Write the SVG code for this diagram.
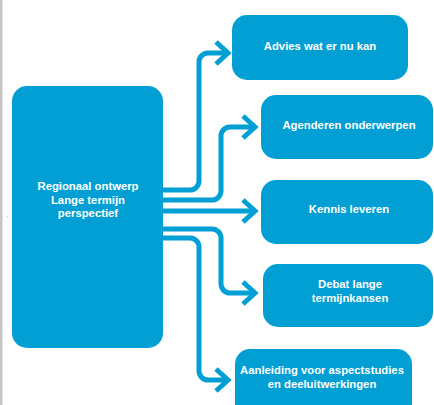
<svg xmlns="http://www.w3.org/2000/svg" width="434" height="405" viewBox="0 0 434 405">
  <defs>
    <style>
      .box { fill: #029fd4; }
      .lbl { fill: #ffffff; font-family: "Liberation Sans", Arial, sans-serif; font-weight: bold; font-size: 11.3px; text-anchor: middle; }
      .wire { fill: none; stroke: #029fd4; stroke-width: 5; }
      .head { fill: none; stroke: #029fd4; stroke-width: 5; stroke-linejoin: miter; }
    </style>
  </defs>

  <rect x="0" y="0" width="434" height="405" fill="#ffffff"/>
  <!-- page edge -->
  <rect x="0" y="0" width="2.5" height="405" fill="#c4c4c4"/>
  <rect x="7" y="216" width="1" height="1" fill="#c8c8c8"/>

  <g id="connectors">
    <path class="wire" d="M163,190 H190 A9 9 0 0 0 199,181 V62 A9 9 0 0 1 208,53 H226"/>
    <polyline class="head" points="216,42 228,53 216,64"/>

    <path class="wire" d="M163,200 H212 A9 9 0 0 0 221,191 V136 A9 9 0 0 1 230,127 H253"/>
    <polyline class="head" points="243,116 255,127 243,138"/>

    <path class="wire" d="M163,211 H253"/>
    <polyline class="head" points="243,200 255,211 243,222"/>

    <path class="wire" d="M163,229 H212 A9 9 0 0 1 221,238 V284 A9 9 0 0 0 230,293 H253"/>
    <polyline class="head" points="243,282 255,293 243,304"/>

    <path class="wire" d="M163,238 H190 A9 9 0 0 1 199,247 V371 A9 9 0 0 0 208,380 H226"/>
    <polyline class="head" points="216,369 228,380 216,391"/>
  </g>

  <g id="regionaal-ontwerp">
    <rect class="box" x="12" y="86" width="151" height="262" rx="15"/>
    <text class="lbl" x="88" y="190">Regionaal ontwerp</text>
    <text class="lbl" x="88" y="204">Lange termijn</text>
    <text class="lbl" x="88" y="217">perspectief</text>
  </g>

  <g id="advies">
    <rect class="box" x="232" y="15" width="176" height="65" rx="15"/>
    <text class="lbl" x="320" y="50">Advies wat er nu kan</text>
  </g>

  <g id="agenderen">
    <rect class="box" x="261" y="95" width="172" height="64" rx="15"/>
    <text class="lbl" x="349" y="129">Agenderen onderwerpen</text>
  </g>

  <g id="kennis">
    <rect class="box" x="261" y="180" width="172" height="64" rx="15"/>
    <text class="lbl" x="349" y="213">Kennis leveren</text>
  </g>

  <g id="debat">
    <rect class="box" x="263" y="264" width="170" height="63" rx="15"/>
    <text class="lbl" x="350" y="288">Debat lange</text>
    <text class="lbl" x="350" y="302">termijnkansen</text>
  </g>

  <g id="aanleiding">
    <rect class="box" x="235" y="349" width="177" height="70" rx="15"/>
    <text class="lbl" x="322" y="374">Aanleiding voor aspectstudies</text>
    <text class="lbl" x="322" y="388">en deeluitwerkingen</text>
  </g>
</svg>
